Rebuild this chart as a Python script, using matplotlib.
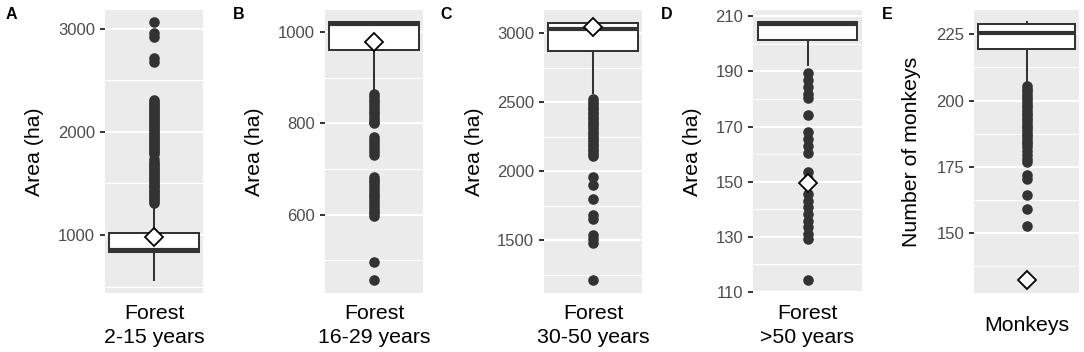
import matplotlib
matplotlib.use("Agg")
import matplotlib.pyplot as plt

plt.rcParams['font.family'] = ['Liberation Sans', 'DejaVu Sans']

# ---------------- data ----------------
panel_letters = ["A", "B", "C", "D", "E"]
categories = ["Forest\n2-15 years", "Forest\n16-29 years", "Forest\n30-50 years",
              "Forest\n>50 years", "Monkeys"]
y_titles = ["Area (ha)", "Area (ha)", "Area (ha)", "Area (ha)", "Number of monkeys"]

whislo = [563, 872, 2565, 192.5, 206.4]
q1 = [835, 961, 2872, 201.3, 219.6]
med = [852, 1017, 3033, 207.2, 225.6]
q3 = [1020, 1021, 3077, 207.8, 228.8]
whishi = [1265, 1021, 3080, 207.8, 229.5]
means = [985, 979, 3048, 149.5, 132.3]

outliers_a = [1310, 1328, 1347, 1366, 1384, 1405, 1423, 1441, 1462, 1480, 1499, 1518,
              1538, 1556, 1575, 1596, 1614, 1633, 1652, 1671, 1690, 1711, 1735,
              1785, 1805, 1824, 1843, 1862, 1881, 1900, 1921, 1940, 1958, 1978, 1997,
              2016, 2035, 2055, 2074, 2093, 2112, 2132, 2151, 2170, 2190, 2209, 2228,
              2248, 2267, 2286, 2305,
              2680, 2720, 2920, 2960, 3062]
outliers_b = [864, 858, 852, 846, 840, 834, 828, 822, 816, 810, 804, 800,
              770, 764, 757, 750, 744, 737, 730,
              683, 677, 671, 665, 659, 652, 646, 640, 634, 628, 622, 615, 609, 603, 598,
              496, 457]
outliers_c = [2522, 2504, 2487, 2468, 2450, 2433, 2414, 2395, 2378, 2360, 2342, 2325,
              2306, 2288, 2270, 2252, 2235, 2216, 2198, 2180, 2163, 2145, 2127, 2110,
              1958, 1898, 1797, 1680, 1650, 1536, 1505, 1478, 1210]
outliers_d = [189.5, 187, 184.5, 182, 180.5, 174.3, 168, 165.5, 163, 160.5, 153.5, 151,
              145.5, 143.1, 140.7, 138.3, 135.9, 133.4, 131, 129.2, 114.3]
outliers_e = [205.5, 204.5, 203.5, 202.5, 201.5, 200.5, 199.5, 198.5, 197.5, 196.5,
              195.5, 194.5, 193.5, 192.5, 191.5, 190.5, 189.5, 188.5, 187.5, 186.5,
              185.5, 184.5, 183.5, 182.5, 181, 179.5, 178, 176.8,
              172, 170.5, 164.3, 159.2, 152.8]
outliers = [outliers_a, outliers_b, outliers_c, outliers_d, outliers_e]

major_ticks = [[1000, 2000, 3000], [600, 800, 1000], [1500, 2000, 2500, 3000],
               [110, 130, 150, 170, 190, 210], [150, 175, 200, 225]]
minor_ticks = [[500, 1500, 2500], [500, 700, 900], [1250, 1750, 2250, 2750],
               [120, 140, 160, 180, 200], [137.5, 162.5, 187.5, 212.5]]

# ---------------- layout (pixels) ----------------
W, H = 1084, 352
panel_x = [(105, 203), (325, 423), (544, 642), (753, 862), (974, 1079)]
panel_top, panel_bot = 9.5, 293
title_x = [35, 255, 474.5, 692.5, 911.5]
letter_x = [6, 233, 440, 661, 882]

dark = "#333333"
fig = plt.figure(figsize=(W / 100, H / 100), dpi=100)

for i in range(5):
    x0, x1 = panel_x[i]
    ax = fig.add_axes([x0 / W, 1 - panel_bot / H, (x1 - x0) / W, (panel_bot - panel_top) / H])
    ax.set_facecolor("#EBEBEB")
    for s in ax.spines.values():
        s.set_visible(False)

    stats = [dict(med=med[i], q1=q1[i], q3=q3[i], whislo=whislo[i], whishi=whishi[i],
                  fliers=outliers[i], mean=means[i])]
    ax.bxp(stats, positions=[1], widths=1.1, showmeans=True, showcaps=False,
           patch_artist=True,
           boxprops=dict(facecolor="white", edgecolor=dark, linewidth=1.45),
           whiskerprops=dict(color=dark, linewidth=1.45),
           medianprops=dict(color=dark, linewidth=3.0, solid_capstyle="butt"),
           flierprops=dict(marker="o", markerfacecolor=dark, markeredgecolor=dark,
                           markersize=7.6, markeredgewidth=0),
           meanprops=dict(marker="D", markerfacecolor="white", markeredgecolor="black",
                          markersize=9.5, markeredgewidth=1.3),
           zorder=3)

    allv = [whislo[i], whishi[i], means[i]] + outliers[i]
    lo, hi = min(allv), max(allv)
    pad = 0.05 * (hi - lo)
    ax.set_ylim(lo - pad, hi + pad)
    ax.set_xlim(0.4, 1.6)

    ax.set_yticks(major_ticks[i])
    ax.set_yticks(minor_ticks[i], minor=True)
    ax.set_yticklabels([str(t) for t in major_ticks[i]])
    ax.grid(True, which="major", axis="y", color="white", linewidth=1.45, zorder=0)
    ax.grid(True, which="minor", axis="y", color="white", linewidth=0.75, zorder=0)
    ax.set_axisbelow(True)
    ax.tick_params(axis="y", which="major", length=3.6, width=1.4, color=dark,
                   labelsize=12, labelcolor="#4D4D4D", pad=3.5)
    ax.tick_params(axis="y", which="minor", length=0)

    ax.set_xticks([1])
    ax.set_xticklabels([categories[i]], fontsize=15.3, linespacing=1.3)
    for lab in ax.get_xticklabels():
        lab.set_va("center")
    ax.tick_params(axis="x", length=0, pad=23.5, labelcolor="black")

    fig.text(title_x[i] / W, 1 - 152 / H, y_titles[i], rotation=90, ha="center",
             va="center", fontsize=15.3, color="black")
    fig.text(letter_x[i] / W, 1 - 19 / H, panel_letters[i], fontsize=11.5,
             fontweight="bold", ha="left", va="baseline")

fig.savefig("out.png", dpi=100)
